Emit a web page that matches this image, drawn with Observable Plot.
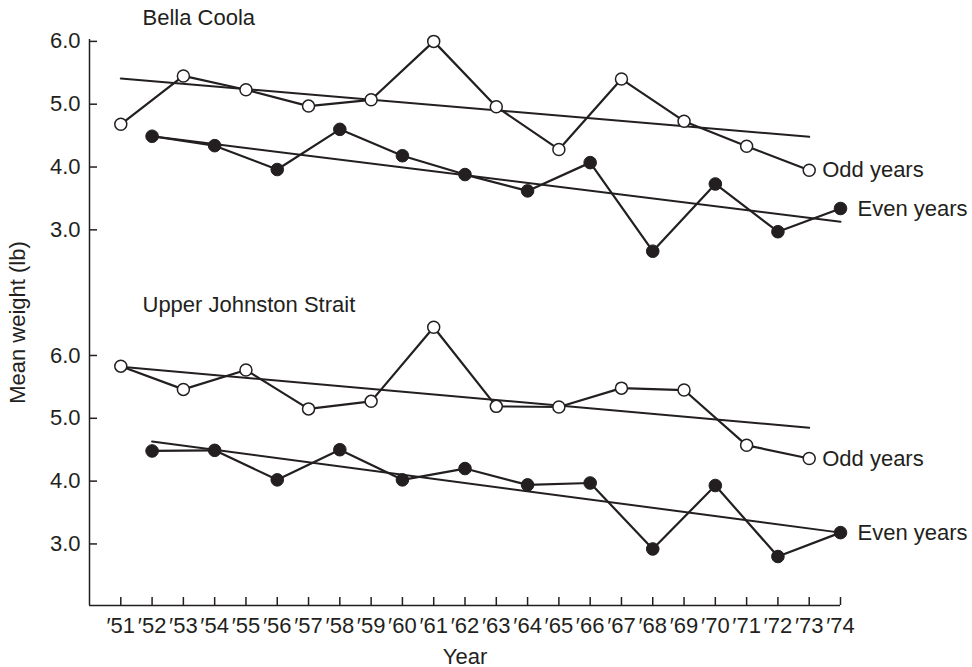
<!DOCTYPE html>
<html>
<head>
<meta charset="utf-8">
<script src="https://cdn.jsdelivr.net/npm/d3@7"></script>
<script src="https://cdn.jsdelivr.net/npm/@observablehq/plot@0.6"></script>
<style>
  html, body { margin: 0; padding: 0; background: #fff; }
  #chart svg { display: block; }
</style>
</head>
<body>
<div id="chart"></div>
<script>
// ---- data ----
const panels = ["Bella Coola", "Upper Johnston Strait"];
const seriesNames = ["Odd years", "Even years"];

const oddYears  = [51, 53, 55, 57, 59, 61, 63, 65, 67, 69, 71, 73];
const evenYears = [52, 54, 56, 58, 60, 62, 64, 66, 68, 70, 72, 74];

const bellaOdd  = [4.68, 5.45, 5.23, 4.97, 5.07, 6.00, 4.96, 4.28, 5.40, 4.73, 4.33, 3.95];
const bellaEven = [4.49, 4.34, 3.96, 4.60, 4.18, 3.88, 3.62, 4.07, 2.66, 3.73, 2.97, 3.34];
const johnOdd   = [5.83, 5.46, 5.77, 5.15, 5.27, 6.45, 5.19, 5.18, 5.48, 5.45, 4.57, 4.36];
const johnEven  = [4.48, 4.49, 4.02, 4.50, 4.02, 4.20, 3.94, 3.97, 2.92, 3.93, 2.80, 3.18];

// fitted trend lines (end points)
const oddTrendYears  = [51, 73];
const evenTrendYears = [52, 74];
const bellaOddTrend  = [5.41, 4.48];
const bellaEvenTrend = [4.49, 3.13];
const johnOddTrend   = [5.82, 4.85];
const johnEvenTrend  = [4.63, 3.18];

// tick labels
const yearTicks = [51, 52, 53, 54, 55, 56, 57, 58, 59, 60, 61, 62, 63, 64, 65, 66, 67, 68, 69, 70, 71, 72, 73, 74];
const weightTicks = [3, 4, 5, 6];

// ---- layout: the two panels share one weight axis, the upper one stacked above ----
const panelShift = [5, 0];
const xDomain = [50, 74];
const yDomain = [2.02, 11.03];
const ink = "#231f20";
const font = "'Liberation Sans', Arial, Helvetica, sans-serif";

function rows(p, s, years, values) {
  return years.map((year, i) => ({
    panel: panels[p], parity: seriesNames[s], key: panels[p] + "|" + seriesNames[s],
    year, value: values[i], y: values[i] + panelShift[p]
  }));
}

const pointRows = [
  ...rows(0, 0, oddYears, bellaOdd), ...rows(0, 1, evenYears, bellaEven),
  ...rows(1, 0, oddYears, johnOdd), ...rows(1, 1, evenYears, johnEven)
];
const trendRows = [
  ...rows(0, 0, oddTrendYears, bellaOddTrend), ...rows(0, 1, evenTrendYears, bellaEvenTrend),
  ...rows(1, 0, oddTrendYears, johnOddTrend), ...rows(1, 1, evenTrendYears, johnEvenTrend)
];
const oddRows = pointRows.filter(d => d.parity === seriesNames[0]);
const evenRows = pointRows.filter(d => d.parity === seriesNames[1]);

const yTickValues = panelShift.flatMap(s => weightTicks.map(t => t + s));
const yTickFormat = d => (d > panelShift[0] + 2 ? d - panelShift[0] : d).toFixed(1);

const chart = Plot.plot({
  width: 972,
  height: 667,
  marginLeft: 89,
  marginRight: 132,
  marginTop: 39,
  marginBottom: 62,
  style: { fontFamily: font, fontSize: "22px", color: ink, background: "#fff" },
  x: { domain: xDomain },
  y: { domain: yDomain },
  marks: [
    Plot.ruleX([xDomain[0]], { stroke: ink, strokeWidth: 1.5 }),
    Plot.ruleY([yDomain[0]], { stroke: ink, strokeWidth: 1.5 }),
    Plot.axisX({
      ticks: yearTicks, tickFormat: d => "\u2032" + d,
      tickSize: -8, tickPadding: 20, strokeWidth: 1.5, fontSize: 22,
      label: "Year", labelAnchor: "center", labelOffset: 58, labelArrow: false
    }),
    Plot.axisY({
      ticks: yTickValues, tickFormat: yTickFormat,
      tickSize: -8, tickPadding: 17, strokeWidth: 1.5, fontSize: 22,
      label: "Mean weight (lb)", labelAnchor: "center", labelOffset: 80, labelArrow: false
    }),
    Plot.line(trendRows, { x: "year", y: "y", z: "key", stroke: ink, strokeWidth: 2 }),
    Plot.line(pointRows, { x: "year", y: "y", z: "key", stroke: ink, strokeWidth: 2.2 }),
    Plot.dot(oddRows, { x: "year", y: "y", r: 6, fill: "#fff", stroke: ink, strokeWidth: 1.5 }),
    Plot.dot(evenRows, { x: "year", y: "y", r: 6.3, fill: ink, stroke: ink, strokeWidth: 1 }),
    Plot.text(oddRows, Plot.selectLast({ x: "year", y: "y", z: "key", text: "parity", textAnchor: "start", dx: 13, fontSize: 22, fill: ink })),
    Plot.text(evenRows, Plot.selectLast({ x: "year", y: "y", z: "key", text: "parity", textAnchor: "start", dx: 17, fontSize: 22, fill: ink })),
    Plot.text([panels[0]], { text: d => d, frameAnchor: "top-left", textAnchor: "start", lineAnchor: "middle", dx: 53, dy: -22, fontSize: 22, fill: ink }),
    Plot.text([panels[1]], { text: d => d, frameAnchor: "top-left", textAnchor: "start", lineAnchor: "middle", dx: 53, dy: 265.5, fontSize: 22, fill: ink })
  ]
});

document.getElementById("chart").append(chart);
</script>
</body>
</html>
